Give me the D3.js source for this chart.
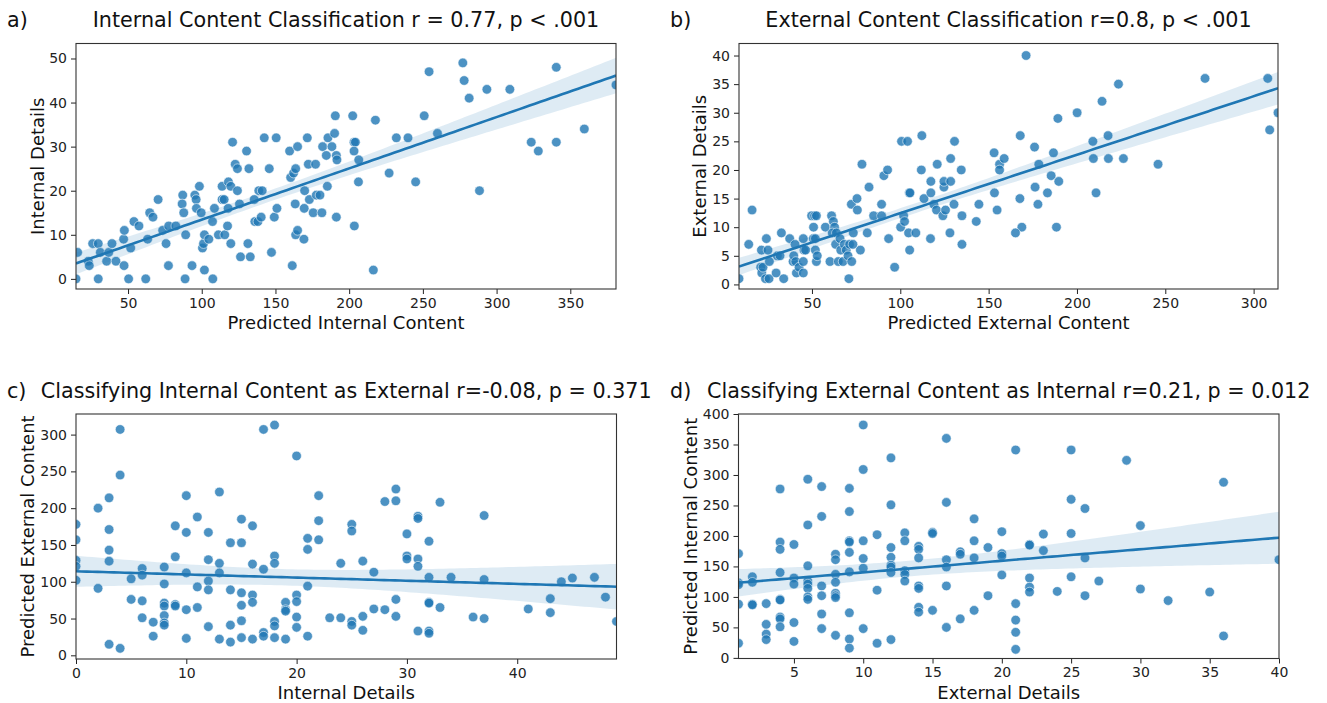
<!DOCTYPE html>
<html>
<head>
<meta charset="utf-8">
<script src="https://cdn.jsdelivr.net/npm/d3@7"></script>
<style>
  body { margin: 0; background: #fff; }
  text { font-family: "DejaVu Sans", sans-serif; fill: #111; }
</style>
</head>
<body>
<svg id="fig" width="1327" height="703"></svg>
<script>
// ---- Panel a: predicted internal content vs. internal details ----
const aPredictedInternal = [14.7,15.8,23.0,23.7,26.0,29.8,29.8,31.2,35.5,36.9,39.1,41.8,47.0,47.3,47.5,50.4,51.8,54.0,57.4,62.0,63.3,64.7,66.9,70.4,73.5,75.8,77.4,77.6,82.4,87.1,86.7,87.8,88.7,89.1,93.4,95.3,96.2,96.4,98.4,99.6,100.5,101.2,101.8,101.8,104.8,107.3,107.5,108.6,111.3,113.8,113.8,115.2,115.6,117.5,117.9,118.1,119.7,119.7,120.9,122.7,124.2,124.2,125.6,126.3,130.4,131.3,132.0,132.9,135.6,136.0,138.1,138.7,140.3,141.0,142.4,145.8,147.3,149.2,150.5,151.0,159.6,160.3,161.4,162.3,163.4,163.7,163.7,165.0,165.0,169.3,169.5,169.8,171.6,172.3,173.0,175.6,177.2,177.7,180.2,181.5,182.0,184.5,185.6,185.2,188.3,190.1,190.6,191.3,191.7,191.3,202.4,203.3,204.2,203.3,206.5,206.3,203.5,217.8,216.4,227.1,232.0,239.9,245.1,250.9,254.2,259.9,277.1,278.0,281.4,288.4,293.4,309.0,323.5,328.3,340.5,340.5,359.5,381.0];
const aInternalDetails = [0,6,4,3,8,8,0,6,4,6,8,4,9,3,11,0,7,13,12,0,9,15,14,18,11,8,3,12,12,19,17,15,0,10,3,19,18,16,21,15,7,8,10,2,9,13,0,16,10,21,18,18,10,12,16,22,21,8,31,26,25,20,17,5,29,8,25,5,18,13,13,20,14,20,32,25,6,14,32,16,29,23,3,24,17,25,10,30,11,9,16,20,32,26,18,15,26,19,19,15,30,28,32,21,30,33,37,28,27,14,37,31,31,29,27,22,12,36,2,24,32,32,22,37,47,33,49,45,41,20,43,43,31,29,48,31,34,44];

// ---- Panel b: predicted external content vs. external details ----
const bPredictedExternal = [8.7,14.2,16.1,21.4,21.0,21.6,22.3,23.7,24.2,25.1,25.7,25.9,29.7,30.4,31.9,32.7,34.0,37.4,39.3,39.7,40.4,40.8,41.2,42.7,45.1,45.1,45.1,45.5,46.4,49.8,50.9,51.5,52.5,50.8,51.9,51.9,52.5,53.0,57.6,60.2,61.1,62.1,62.8,61.5,63.4,63.8,64.9,65.9,66.3,67.6,68.3,69.4,70.4,70.9,71.3,72.5,73.2,73.4,72.3,75.5,75.7,77.4,78.3,81.3,82.3,84.9,89.4,89.4,90.7,92.8,93.4,96.8,100.2,100.7,104.1,101.9,102.4,105.1,105.5,104.7,105.3,108.8,111.9,112.2,113.4,117.1,117.3,117.3,119.0,120.9,120.5,124.1,124.7,124.7,125.6,128.1,128.5,128.5,130.4,130.7,134.9,134.9,134.5,143.0,144.5,153.1,153.3,154.8,156.2,156.2,158.8,171.2,167.9,176.0,178.4,186.7,189.2,185.4,189.7,176.3,183.3,167.7,177.9,168.8,165.2,188.4,200.1,209.0,209.3,210.8,214.2,217.6,217.8,223.5,226.3,245.9,272.5,308.0,309.1,313.8];
const bExternalDetails = [1,7,13,6,3,2,3,1,8,6,1,4,2,5,5,9,1,8,4,5,7,4,2,3,4,2,8,6,6,12,10,12,12,8,8,6,4,5,10,4,12,11,10,9,7,9,4,8,6,4,7,6,5,1,7,4,7,9,14,15,13,6,21,9,17,12,12,14,19,20,8,3,10,25,25,12,11,16,16,9,6,9,20,26,15,8,18,16,14,21,13,12,17,18,13,9,18,22,14,25,12,7,20,11,14,23,16,13,21,20,22,40,26,24,21,23,29,19,18,17,16,15,14,10,9,10,30,25,22,16,32,26,22,35,22,21,36,36,27,30];

// ---- Panel c: internal details vs. predicted external content ----
const cInternalDetails = [0,0,0,0,0,2,2,3,3,3,3,3,4,4,4,5,5,6,6,6,6,7,7,8,8,8,8,8,8,8,9,9,9,9,10,10,10,10,10,11,11,11,12,12,12,12,12,13,13,13,13,14,14,14,14,15,15,15,15,15,15,16,16,16,16,16,17,17,17,17,18,18,18,18,18,18,19,19,19,19,20,20,20,20,20,21,21,21,21,22,22,22,23,24,24,25,25,25,25,26,26,26,27,27,28,28,29,29,29,29,30,30,30,31,31,31,31,31,32,32,32,32,32,32,33,33,34,36,37,37,37,41,43,43,44,45,47,48,49];
const cPredictedExternal = [178,157,129,121,102,200,91,214,171,143,128,15,307,245,9.5,104,76,118,109,74,51,45,26,120,97,71,67,54,44,41,176,134,69,67,217,167,112,62,23,188,93,65,167,130,101,89,39,222,125,112,22,153,89,41,18,185,153,85,68,47,24,176,124,82,72,22,307,117,31,26,313,135,125,46,40,24,72,62,60,22,271,82,73,52,38,159,144,94,26,217,183,157,51,125,51,178,169,46,41,128,53,34,113,63,209,62,226,210,76,53,165,135,131,189,186,131,121,33,155,106,72,71,33,30,208,65,106,52,190,103,50,63,77,58,100,105,106,79,46];

// ---- Panel d: external details vs. predicted internal content ----
const dExternalDetails = [1,1,1,1,1,2,2,2,2,3,3,3,3,4,4,4,4,4,4,4,4,4,5,5,5,5,5,6,6,6,6,6,6,6,6,7,7,7,7,7,7,8,8,8,8,8,8,8,8,9,9,9,9,9,9,9,9,9,10,10,10,10,10,10,11,11,11,12,12,12,12,12,12,12,12,13,13,13,13,13,14,14,14,14,14,14,14,15,15,15,16,16,16,16,16,16,17,17,17,18,18,18,18,19,19,20,20,20,20,21,21,21,21,21,22,22,22,22,22,23,23,24,25,25,25,25,26,26,26,27,29,30,30,32,35,36,36,40];
const dPredictedInternal = [171,123,120,88,24,133,124,88,87,89,55,39,30,277,190,178,140,96,95,67,64,51,186,131,121,58,27,293,218,151,126,121,114,100,96,281,232,118,102,72,48,170,161,137,124,106,102,99,37,278,240,192,190,173,141,74,31,16,382,309,192,163,147,48,202,111,24,328,251,181,165,152,149,140,30,205,192,143,137,126,183,178,164,118,114,83,75,206,204,78,360,255,161,149,118,50,174,170,64,228,192,164,78,181,102,207,171,167,136,341,89,62,42,14,186,185,131,116,108,203,176,109,341,260,204,133,245,164,102,126,324,217,113,94,108,288,36,161];

// Tick values
const aXTicks = [50, 100, 150, 200, 250, 300, 350];
const aYTicks = [0, 10, 20, 30, 40, 50];
const bXTicks = [50, 100, 150, 200, 250, 300];
const bYTicks = [0, 5, 10, 15, 20, 25, 30, 35, 40];
const cXTicks = [0, 10, 20, 30, 40];
const cYTicks = [0, 50, 100, 150, 200, 250, 300];
const dXTicks = [5, 10, 15, 20, 25, 30, 35, 40];
const dYTicks = [0, 50, 100, 150, 200, 250, 300, 350, 400];

const blue = "#1f77b4";
const svg = d3.select("#fig");

// Ordinary least squares fit with a 95% confidence band for the mean
function fitLine(xs, ys, domain) {
  const n = xs.length;
  const mx = d3.mean(xs), my = d3.mean(ys);
  let sxx = 0, sxy = 0;
  for (let i = 0; i < n; i++) { sxx += (xs[i] - mx) ** 2; sxy += (xs[i] - mx) * (ys[i] - my); }
  const b = sxy / sxx, a = my - b * mx;
  let sse = 0;
  for (let i = 0; i < n; i++) sse += (ys[i] - (a + b * xs[i])) ** 2;
  const s = Math.sqrt(sse / (n - 2));
  const t = 1.977;
  const grid = d3.range(0, 101).map(k => domain[0] + (domain[1] - domain[0]) * k / 100);
  return grid.map(x => {
    const yh = a + b * x;
    const se = s * Math.sqrt(1 / n + (x - mx) ** 2 / sxx);
    return { x, y: yh, lo: yh - t * se, hi: yh + t * se };
  });
}

function panel(o) {
  const g = svg.append("g");
  const x = d3.scaleLinear().domain(o.xDomain).range([o.left, o.right]);
  const y = d3.scaleLinear().domain(o.yDomain).range([o.bottom, o.top]);

  const clipId = "clip-" + o.letter;
  svg.append("clipPath").attr("id", clipId)
    .append("rect").attr("x", o.left).attr("y", o.top)
    .attr("width", o.right - o.left).attr("height", o.bottom - o.top);

  const plot = g.append("g").attr("clip-path", `url(#${clipId})`);
  const pts = o.xs.map((v, i) => [v, o.ys[i]]);
  plot.selectAll("circle").data(pts).join("circle")
    .attr("cx", d => x(d[0])).attr("cy", d => y(d[1])).attr("r", 4.8)
    .attr("fill", blue).attr("fill-opacity", 0.8)
    .attr("stroke", "#fff").attr("stroke-opacity", 0.8).attr("stroke-width", 0.7);

  const fit = fitLine(o.xs, o.ys, o.xDomain);
  plot.append("path").datum(fit)
    .attr("d", d3.area().x(d => x(d.x)).y0(d => y(d.lo)).y1(d => y(d.hi)))
    .attr("fill", blue).attr("fill-opacity", 0.15);
  plot.append("path").datum(fit)
    .attr("d", d3.line().x(d => x(d.x)).y(d => y(d.y)))
    .attr("fill", "none").attr("stroke", blue).attr("stroke-width", 2.6);

  // axes
  const xa = g.append("g").attr("transform", `translate(0,${o.bottom})`)
    .call(d3.axisBottom(x).tickValues(o.xTicks).tickSize(5).tickPadding(4).tickFormat(d3.format("d")));
  const ya = g.append("g").attr("transform", `translate(${o.left},0)`)
    .call(d3.axisLeft(y).tickValues(o.yTicks).tickSize(5).tickPadding(4).tickFormat(d3.format("d")));
  [xa, ya].forEach(a => {
    a.select(".domain").remove();
    a.selectAll(".tick line").attr("stroke", "#222").attr("stroke-width", 1);
    a.selectAll(".tick text").attr("font-size", 14).attr("font-family", "DejaVu Sans").style("fill", "#222");
  });

  g.append("rect").attr("x", o.left).attr("y", o.top)
    .attr("width", o.right - o.left).attr("height", o.bottom - o.top)
    .attr("fill", "none").attr("stroke", "#333").attr("stroke-width", 1.1);

  const cx = (o.left + o.right) / 2;
  g.append("text").attr("x", cx).attr("y", o.titleY).attr("text-anchor", "middle")
    .attr("font-size", 20.7).text(o.title);
  g.append("text").attr("x", o.letterX).attr("y", o.titleY).attr("font-size", 20.7).text(o.letter + ")");
  g.append("text").attr("x", cx).attr("y", o.bottom + 40).attr("text-anchor", "middle")
    .attr("font-size", 18).text(o.xLabel);
  g.append("text").attr("transform", `translate(${o.yLabelX},${(o.top + o.bottom) / 2}) rotate(-90)`)
    .attr("text-anchor", "middle").attr("font-size", 18).text(o.yLabel);
}

panel({ letter: "a", letterX: 7, titleY: 27, left: 76, right: 616, top: 43.5, bottom: 289,
  xs: aPredictedInternal, ys: aInternalDetails, xDomain: d3.extent(aPredictedInternal), yDomain: [-2.3, 53.4],
  xTicks: aXTicks, yTicks: aYTicks, yLabelX: 44,
  title: "Internal Content Classification r = 0.77, p < .001",
  xLabel: "Predicted Internal Content", yLabel: "Internal Details" });

panel({ letter: "b", letterX: 670, titleY: 27, left: 739, right: 1278, top: 43.5, bottom: 289,
  xs: bPredictedExternal, ys: bExternalDetails, xDomain: d3.extent(bPredictedExternal), yDomain: [-0.8, 42.1],
  xTicks: bXTicks, yTicks: bYTicks, yLabelX: 706,
  title: "External Content Classification r=0.8, p < .001",
  xLabel: "Predicted External Content", yLabel: "External Details" });

panel({ letter: "c", letterX: 7, titleY: 398, left: 76, right: 616.5, top: 414, bottom: 659,
  xs: cInternalDetails, ys: cPredictedExternal, xDomain: [0, 49], yDomain: [-5, 328],
  xTicks: cXTicks, yTicks: cYTicks, yLabelX: 34,
  title: "Classifying Internal Content as External r=-0.08, p = 0.371",
  xLabel: "Internal Details", yLabel: "Predicted External Content" });

panel({ letter: "d", letterX: 670, titleY: 398, left: 738.5, right: 1279, top: 414, bottom: 658.5,
  xs: dExternalDetails, ys: dPredictedInternal, xDomain: [1, 40], yDomain: [-1, 400],
  xTicks: dXTicks, yTicks: dYTicks, yLabelX: 697,
  title: "Classifying External Content as Internal r=0.21, p = 0.012",
  xLabel: "External Details", yLabel: "Predicted Internal Content" });
</script>
</body>
</html>
